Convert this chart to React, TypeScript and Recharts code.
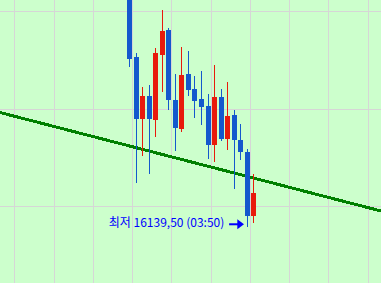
import React from 'react';
import { ComposedChart, Bar, XAxis, YAxis, ReferenceLine, ReferenceDot } from 'recharts';

// 5-minute candles
const times = ['02:20', '02:25', '02:30', '02:35', '02:40', '02:45', '02:50', '02:55', '03:00', '03:05',
  '03:10', '03:15', '03:20', '03:25', '03:30', '03:35', '03:40', '03:45', '03:50', '03:55'];
const opens = [16262.0, 16226.75, 16194.75, 16206.75, 16194.25, 16227.75, 16240.5, 16204.5, 16189.75, 16218.0,
  16210.25, 16205.0, 16201.5, 16181.5, 16206.25, 16184.5, 16197.0, 16184.0, 16178.0, 16145.25];
const highs = [16264.0, 16228.75, 16211.25, 16212.25, 16231.25, 16250.75, 16241.5, 16218.0, 16231.75, 16229.75,
  16217.0, 16219.5, 16207.75, 16222.5, 16210.25, 16213.75, 16199.5, 16192.25, 16179.5, 16166.75];
const lows = [16221.75, 16162.25, 16176.0, 16166.75, 16185.75, 16208.75, 16199.5, 16178.5, 16188.25, 16206.75,
  16195.5, 16191.75, 16174.25, 16172.75, 16183.5, 16179.0, 16159.0, 16173.75, 16139.5, 16141.5];
const closes = [16225.75, 16194.75, 16206.75, 16194.75, 16228.75, 16240.0, 16204.5, 16190.5, 16217.5, 16209.75,
  16204.0, 16201.0, 16181.5, 16206.25, 16184.5, 16196.5, 16184.0, 16178.0, 16145.25, 16157.0];

const priceGrid = [16150, 16200, 16250];
const timeGrid = [-17.5, -11.5, -5.5, 0.5, 6.5, 12.5, 18.5, 24.5, 30.5, 36.5];

const trendStart = { x: -19.76, y: 16198.2 };
const trendEnd = { x: 38.46, y: 16147.7 };

const lowWord = '최저';

const X_DOMAIN: [number, number] = [-19.756, 38.457];
const Y_DOMAIN: [number, number] = [16110.77, 16255.9];

const BLUE = '#1458cd';
const RED = '#e81a0c';

const data = times.map((t, i) => ({
  idx: i,
  time: t,
  open: opens[i],
  high: highs[i],
  low: lows[i],
  close: closes[i],
  range: [lows[i], highs[i]],
}));

let lowIdx = 0;
data.forEach((d, i) => { if (d.low < data[lowIdx].low) lowIdx = i; });
const lowPoint = data[lowIdx];
const lowText = `${lowWord} ${lowPoint.low.toFixed(2).replace('.', ',')} (${lowPoint.time})`;

const Candle = (props: any) => {
  const { x, y, width, height, payload } = props;
  if (!payload) return null;
  const { open, close, high, low } = payload;
  const top = Math.min(y, y + height);
  const h = Math.abs(height);
  const k = h / (high - low);
  const py = (v: number) => top + (high - v) * k;
  const color = close >= open ? RED : BLUE;
  const col = Math.floor(x + width / 2);
  const bTop = py(Math.max(open, close));
  const bBot = py(Math.min(open, close));
  return (
    <g shapeRendering="crispEdges">
      <rect x={col} y={py(high)} width={1} height={py(low) - py(high)} fill={color} />
      <rect x={col - 2} y={bTop} width={5} height={Math.max(1, bBot - bTop)} fill={color} />
    </g>
  );
};

const LowMarker = (props: any) => {
  const { cx, cy } = props;
  const ay = cy - 2.7;
  return (
    <g>
      <text x={cx - 22.8} y={cy + 0.5} textAnchor="end" fontFamily="'Noto Sans CJK KR'" fontSize={12} fill="#0000ff">
        {lowText}
      </text>
      <rect x={cx - 18} y={ay - 1} width={9} height={2} fill="#0000ff" />
      <polygon points={`${cx - 9.8},${ay - 5} ${cx - 3.1},${ay} ${cx - 9.8},${ay + 5}`} fill="#0000ff" />
    </g>
  );
};

export default function App() {
  return (
    <div style={{ position: 'absolute', left: 0, top: 0, width: 381, height: 283, background: '#ccffcc' }}>
      <ComposedChart width={381} height={283} data={data} margin={{ top: 0, right: 0, bottom: 0, left: 0 }}>
        <XAxis dataKey="idx" type="number" domain={X_DOMAIN} allowDataOverflow hide />
        <YAxis type="number" domain={Y_DOMAIN} allowDataOverflow hide />
        {timeGrid.map((g) => (
          <ReferenceLine key={`v${g}`} x={g} stroke="#d6d6d6" strokeWidth={1} shapeRendering="crispEdges" zIndex={-100} />
        ))}
        {priceGrid.map((g) => (
          <ReferenceLine key={`h${g}`} y={g} stroke="#d6d6d6" strokeWidth={1} shapeRendering="crispEdges" zIndex={-100} />
        ))}
        <ReferenceLine segment={[trendStart, trendEnd]} stroke="#008000" strokeWidth={3} shapeRendering="crispEdges" ifOverflow="visible" zIndex={100} />
        <Bar dataKey="range" barSize={5} shape={Candle} isAnimationActive={false} />
        <ReferenceDot x={lowPoint.idx} y={lowPoint.low} r={0} shape={LowMarker} ifOverflow="visible" zIndex={2000} />
      </ComposedChart>
    </div>
  );
}
